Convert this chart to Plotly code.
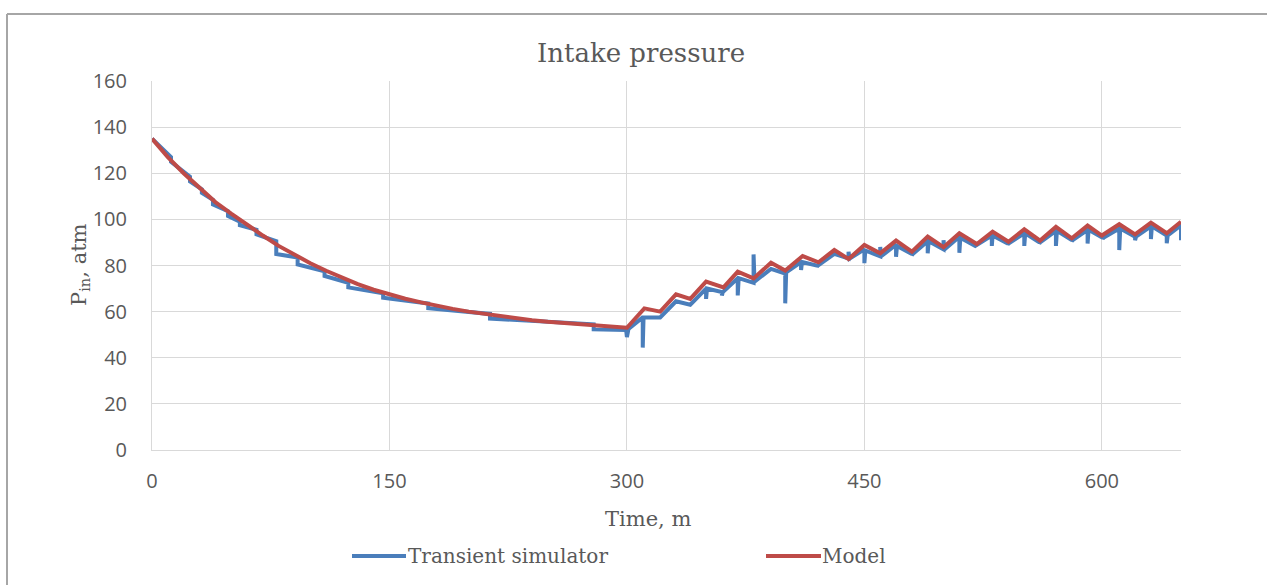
import plotly.graph_objects as go

# Model: smooth decline during drawdown, then sawtooth recovery
model_x = [0, 10, 20, 30, 40, 50, 60, 70, 80, 90, 100, 110, 120, 130, 140, 150,
           160, 170, 180, 190, 200, 210, 220, 230, 240, 250, 260, 270, 280, 290, 300,
           311, 321, 331, 340, 350, 361, 370, 380, 391, 400, 411, 421, 431, 440,
           450, 460, 470, 480, 490, 500, 510, 521, 531, 541, 551, 561, 571, 581,
           591, 600, 611, 621, 631, 641, 650]
model_y = [135, 127, 120, 113.5, 107.5, 102.5, 97.5, 93, 88.5, 84.5, 81, 77.7, 74.6,
           71.9, 69.5, 67.4, 65.6, 64, 62.5, 61.2, 60, 59, 58, 57.1, 56.3, 55.6, 55,
           54.4, 53.9, 53.4, 53,
           61.4, 60, 67.5, 65.5, 73, 70.5, 77.3, 74.4, 81.2, 77.8, 84.1, 81.4, 86.7,
           82.8, 88.9, 85.3, 90.8, 86, 92.5, 87.9, 94, 89.3, 94.7, 90.3, 95.7, 90.8,
           96.8, 91.8, 97.3, 93, 97.9, 93.5, 98.6, 94, 99]

# Transient simulator output: stepped decline, then spiky recovery
sim_x = [0, 12, 12, 24, 24, 31.5, 31.5, 38.5, 38.5, 48, 48, 55.5, 55.5, 66, 66,
         78.5, 78.5, 92, 92, 109, 109, 124, 124, 146, 146, 174.5, 174.5, 213.5, 213.5,
         279, 279, 299.5, 300, 301,
         310, 310, 310.5, 321, 331, 340, 350, 350, 350.6, 360, 360, 360.6,
         370, 370, 370.6, 380, 380, 380.6, 391, 400, 400, 400.6, 410, 410, 410.6,
         420, 420, 420.6, 431, 440, 440, 440.6, 450, 450, 450.6, 460, 460, 460.6,
         470, 470, 470.6, 480, 480, 480.6, 490, 490, 490.6, 500, 500, 500.6,
         510, 510, 510.6, 520, 530.5, 530.5, 531, 540.5, 540.5, 541, 551, 551, 551.6,
         560.5, 560.5, 561, 571, 571, 571.6, 581, 581, 581.6, 591, 591, 591.6,
         600.5, 600.5, 601, 611, 611, 611.6, 621, 621, 621.6, 631, 631, 631.6,
         641, 641, 641.6, 650, 650]
sim_y = [135, 127, 125, 118.5, 116.5, 113, 111.5, 108.5, 106.5, 103.5, 101.5, 99, 97.5,
         95.5, 93.5, 90.5, 85, 83.5, 80.5, 77.5, 75.5, 72.5, 70.5, 68, 66, 63.5, 61.5, 59,
         57, 54.5, 52.3, 52, 49, 52.5,
         57.5, 44.4, 57.5, 57.5, 64.5, 63, 70, 65.5, 70, 68.5, 67, 68.5,
         74.5, 67, 74.5, 72.5, 84.8, 73, 78.5, 76.5, 63.6, 77, 81.5, 78, 81.5,
         80, 79.5, 80, 85, 83, 86, 83, 87, 81, 86.5, 84, 88, 84,
         89, 83.8, 88.5, 85, 84.5, 85, 90.5, 85.3, 90.5, 87, 91, 87,
         92.5, 85.5, 92, 88.5, 93, 88.5, 93, 89.5, 89, 89.5, 94, 88.5, 94,
         90, 89.5, 90, 95, 88.5, 95, 91, 90.5, 91, 95.5, 89.5, 95.5,
         92, 91.5, 92, 96, 86.7, 96, 92.5, 91, 92.5, 97, 91.5, 97,
         93, 89.6, 93, 97.5, 91]

x_ticks = [0, 150, 300, 450, 600]
y_ticks = [0, 20, 40, 60, 80, 100, 120, 140, 160]

BLUE = "#4a7ebb"
RED = "#be4b48"
GRID = "#d9d9d9"
TEXT = "#595959"
SERIF = "DejaVu Serif, Liberation Serif, serif"
SANS = "Open Sans, Liberation Sans, sans-serif"

fig = go.Figure()
fig.add_trace(go.Scatter(x=sim_x, y=sim_y, mode="lines", name="Transient simulator",
                         line=dict(color=BLUE, width=4), showlegend=False))
fig.add_trace(go.Scatter(x=model_x, y=model_y, mode="lines", name="Model",
                         line=dict(color=RED, width=4), showlegend=False))

W, H = 1267, 585
L, R, T, B = 152, 86, 81, 135
pw, ph = W - L - R, H - T - B


def px(xp):
    return (xp - L) / pw


def py(yp):
    return (H - B - yp) / ph


fig.update_layout(
    width=W, height=H,
    margin=dict(l=L, r=R, t=T, b=B),
    paper_bgcolor="white", plot_bgcolor="white",
    xaxis=dict(range=[0, 650], tickvals=x_ticks, showgrid=True, gridcolor=GRID,
               gridwidth=1, zeroline=False, showline=True, linecolor=GRID,
               ticks="", tickfont=dict(family=SANS, size=20, color=TEXT),
               ticklabelstandoff=13),
    yaxis=dict(range=[0, 160], tickvals=y_ticks, showgrid=True, gridcolor=GRID,
               gridwidth=1, zeroline=False, showline=True, linecolor=GRID,
               ticks="", tickfont=dict(family=SANS, size=20, color=TEXT),
               ticklabelstandoff=20),
)

annotations = [
    dict(text="Intake pressure", x=px(641), y=py(53), xref="paper", yref="paper",
         showarrow=False, xanchor="center", yanchor="middle",
         font=dict(family=SERIF, size=26, color=TEXT)),
    dict(text="Time, m", x=px(648), y=py(519), xref="paper", yref="paper",
         showarrow=False, xanchor="center", yanchor="middle",
         font=dict(family=SERIF, size=21, color=TEXT)),
    dict(text="P<sub>in</sub>, atm", x=px(80), y=py(265), xref="paper", yref="paper",
         showarrow=False, xanchor="center", yanchor="middle", textangle=-90,
         font=dict(family=SERIF, size=21, color=TEXT)),
    dict(text="Transient simulator", x=px(406), y=py(556), xref="paper", yref="paper",
         showarrow=False, xanchor="left", yanchor="middle",
         font=dict(family=SERIF, size=20, color=TEXT)),
    dict(text="Model", x=px(820), y=py(556), xref="paper", yref="paper",
         showarrow=False, xanchor="left", yanchor="middle",
         font=dict(family=SERIF, size=20, color=TEXT)),
]
fig.update_layout(annotations=annotations)

shapes = [
    # legend keys
    dict(type="line", xref="paper", yref="paper", x0=px(352), x1=px(406),
         y0=py(556), y1=py(556), line=dict(color=BLUE, width=4)),
    dict(type="line", xref="paper", yref="paper", x0=px(766), x1=px(821),
         y0=py(556), y1=py(556), line=dict(color=RED, width=4)),
    # chart frame
    dict(type="line", xref="paper", yref="paper", x0=px(7), x1=px(1270),
         y0=py(14), y1=py(14), line=dict(color="#a6a6a6", width=2)),
    dict(type="line", xref="paper", yref="paper", x0=px(7), x1=px(7),
         y0=py(14), y1=py(590), line=dict(color="#a6a6a6", width=2)),
]
fig.update_layout(shapes=shapes)

fig.write_html("out.html")
